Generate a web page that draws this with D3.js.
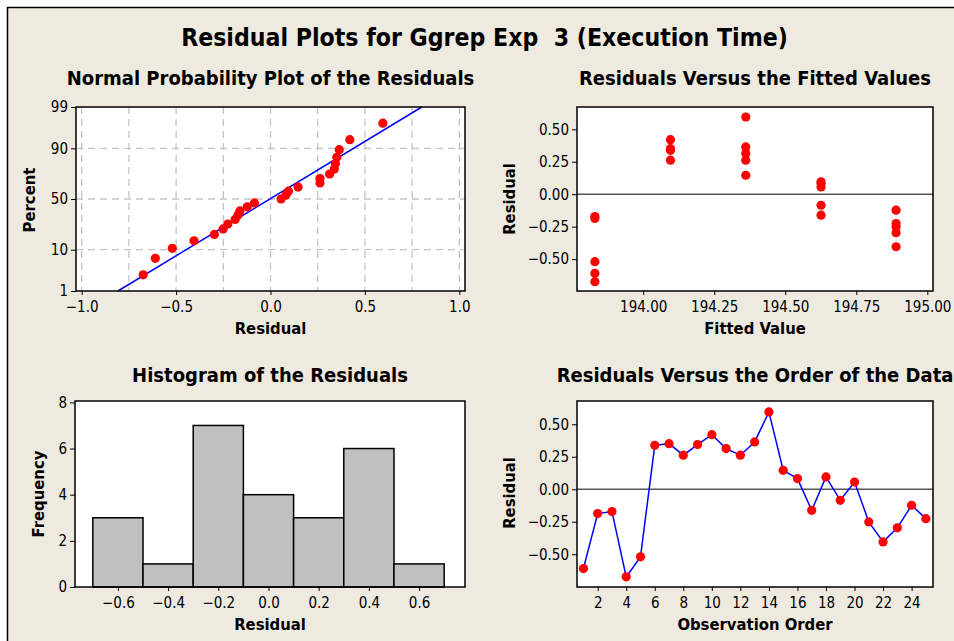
<!DOCTYPE html>
<html><head><meta charset="utf-8">
<script src="https://cdn.jsdelivr.net/npm/d3@7"></script>
<style>
html,body{margin:0;padding:0;background:#fff;}
svg text{font-family:"DejaVu Sans Condensed","DejaVu Sans",Tahoma,sans-serif;fill:#000;}
</style></head><body>
<svg id="chart" width="954" height="641"></svg>
<script>
// ---------- data ----------
const observation = [1,2,3,4,5,6,7,8,9,10,11,12,13,14,15,16,17,18,19,20,21,22,23,24,25];
const residuals = [-0.610,-0.187,-0.172,-0.674,-0.520,0.338,0.351,0.262,0.344,0.420,
                   0.313,0.262,0.364,0.595,0.146,0.082,-0.162,0.095,-0.085,0.056,
                   -0.251,-0.405,-0.297,-0.123,-0.226];
const fitted = [193.83,193.83,193.83,193.83,193.83,194.096,194.096,194.096,194.096,194.096,
                194.361,194.361,194.361,194.361,194.361,194.626,194.626,194.626,194.626,194.626,
                194.89,194.89,194.89,194.89,194.89];
const histEdges = [-0.7,-0.5,-0.3,-0.1,0.1,0.3,0.5,0.7];
const histCounts = [3,1,7,4,3,6,1];
const probTicks = [1,10,50,90,99];
const probGridX = [-1,-0.75,-0.5,-0.25,0,0.25,0.5,0.75,1];
const probXTicks = [-1,-0.5,0,0.5,1];
const residTicks = [-0.5,-0.25,0,0.25,0.5];
const fittedTicks = [194.00,194.25,194.50,194.75,195.00];
const histXTicks = [-0.6,-0.4,-0.2,0,0.2,0.4,0.6];
const histYTicks = [0,2,4,6,8];
const orderTicks = [2,4,6,8,10,12,14,16,18,20,22,24];

const titleText = "Residual Plots for Ggrep Exp  3 (Execution Time)";

// ---------- helpers ----------
function qnorm(p){
  const a=[-3.969683028665376e+01,2.209460984245205e+02,-2.759285104469687e+02,1.383577518672690e+02,-3.066479806614716e+01,2.506628277459239e+00];
  const b=[-5.447609879822406e+01,1.615858368580409e+02,-1.556989798598866e+02,6.680131188771972e+01,-1.328068155288572e+01];
  const c=[-7.784894002430293e-03,-3.223964580411365e-01,-2.400758277161838e+00,-2.549732539343734e+00,4.374664141464968e+00,2.938163982698783e+00];
  const d=[7.784695709041462e-03,3.224671290700398e-01,2.445134137142996e+00,3.754408661907416e+00];
  const pl=0.02425, ph=1-pl; let q,r;
  if(p<pl){q=Math.sqrt(-2*Math.log(p));return (((((c[0]*q+c[1])*q+c[2])*q+c[3])*q+c[4])*q+c[5])/((((d[0]*q+d[1])*q+d[2])*q+d[3])*q+1);}
  if(p<=ph){q=p-0.5;r=q*q;return (((((a[0]*r+a[1])*r+a[2])*r+a[3])*r+a[4])*r+a[5])*q/(((((b[0]*r+b[1])*r+b[2])*r+b[3])*r+b[4])*r+1);}
  q=Math.sqrt(-2*Math.log(1-p));return -(((((c[0]*q+c[1])*q+c[2])*q+c[3])*q+c[4])*q+c[5])/((((d[0]*q+d[1])*q+d[2])*q+d[3])*q+1);
}

const svg = d3.select("#chart");
const BG = "#eeeae0";
svg.append("rect").attr("x",7).attr("y",7).attr("width",947).attr("height",634).attr("fill",BG);
svg.append("path").attr("d","M7.5,641V7.5H954").attr("fill","none").attr("stroke","#000").attr("stroke-width",1.5);

svg.append("text").attr("x",484.5).attr("y",46).attr("text-anchor","middle")
  .style("font-size","24.6px").style("font-weight","bold").style("white-space","pre").text(titleText);

const TICK_FS = "15px";

function panel(box, title){
  const g = svg.append("g");
  g.append("rect").attr("x",box.x0).attr("y",box.y0).attr("width",box.x1-box.x0).attr("height",box.y1-box.y0)
    .attr("fill","#fff");
  g.append("text").attr("x",(box.x0+box.x1)/2).attr("y",box.ty).attr("text-anchor","middle")
    .style("font-size","20px").style("font-weight","bold").text(title);
  return g;
}
function frame(g, box){
  g.append("rect").attr("x",box.x0).attr("y",box.y0).attr("width",box.x1-box.x0).attr("height",box.y1-box.y0)
    .attr("fill","none").attr("stroke","#000").attr("stroke-width",1.5);
}
function xAxis(g, box, scale, ticks, fmt, label, labelY){
  const ax = g.append("g").attr("transform",`translate(0,${box.y1})`)
    .call(d3.axisBottom(scale).tickValues(ticks).tickFormat(fmt).tickSize(4).tickSizeOuter(0).tickPadding(6));
  ax.select(".domain").remove();
  ax.selectAll("text").style("font-size",TICK_FS).attr("font-family",null);
  ax.selectAll("line").attr("stroke","#000");
  g.append("text").attr("x",(box.x0+box.x1)/2).attr("y",labelY).attr("text-anchor","middle")
    .style("font-size","16.5px").style("font-weight","bold").text(label);
}
function yAxis(g, box, scale, ticks, fmt, label, labelX, labelCY){
  const ax = g.append("g").attr("transform",`translate(${box.x0},0)`)
    .call(d3.axisLeft(scale).tickValues(ticks).tickFormat(fmt).tickSize(5).tickSizeOuter(0).tickPadding(3));
  ax.select(".domain").remove();
  ax.selectAll("text").style("font-size",TICK_FS).attr("font-family",null);
  ax.selectAll("line").attr("stroke","#000");
  g.append("text").attr("transform",`translate(${labelX},${labelCY}) rotate(-90)`).attr("text-anchor","middle")
    .style("font-size","16.5px").style("font-weight","bold").text(label);
}

// ---------- Panel 1: Normal probability plot ----------
{
  const box={x0:76,y0:107,x1:465,y1:291,ty:85};
  const g = panel(box,"Normal Probability Plot of the Residuals");
  const x = d3.scaleLinear().domain([-1.03,1.03]).range([box.x0,box.x1]);
  const zmax = qnorm(0.99);
  const y = d3.scaleLinear().domain([-zmax,zmax]).range([box.y1,box.y0]);
  const grid = g.append("g").attr("stroke","#c4c4c4").attr("stroke-width",1.3).attr("stroke-dasharray","7,5");
  grid.selectAll("line.v").data(probGridX).join("line").attr("class","v")
    .attr("x1",d=>x(d)).attr("x2",d=>x(d)).attr("y1",box.y0).attr("y2",box.y1);
  grid.selectAll("line.h").data([10,50,90]).join("line").attr("class","h")
    .attr("x1",box.x0).attr("x2",box.x1).attr("y1",d=>y(qnorm(d/100))).attr("y2",d=>y(qnorm(d/100)));
  const mu = d3.mean(residuals), sd = d3.deviation(residuals);
  const ps = [0.01,0.99];
  g.append("line").attr("x1",x(mu+sd*qnorm(ps[0]))).attr("y1",y(qnorm(ps[0])))
    .attr("x2",x(mu+sd*qnorm(ps[1]))).attr("y2",y(qnorm(ps[1])))
    .attr("stroke","#0000ff").attr("stroke-width",1.5);
  const sorted = residuals.slice().sort(d3.ascending);
  const n = sorted.length;
  g.selectAll("circle").data(sorted).join("circle")
    .attr("cx",d=>x(d)).attr("cy",(d,i)=>y(qnorm((i+1-0.3)/(n+0.4)))).attr("r",4.6).attr("fill","#ff0000");
  frame(g,box);
  xAxis(g,box,x,probXTicks,d3.format(".1f"),"Residual",334);
  yAxis(g,box,y,probTicks.map(p=>qnorm(p/100)),(d,i)=>probTicks[i],"Percent",35,200);
}

// ---------- Panel 2: Residuals vs fitted ----------
{
  const box={x0:577,y0:107,x1:933,y1:291,ty:85};
  const g = panel(box,"Residuals Versus the Fitted Values");
  const x = d3.scaleLinear().domain([193.767,195.02]).range([box.x0,box.x1]);
  const y = d3.scaleLinear().domain([-0.746,0.672]).range([box.y1,box.y0]);
  g.append("line").attr("x1",box.x0).attr("x2",box.x1).attr("y1",y(0)).attr("y2",y(0))
    .attr("stroke","#555").attr("stroke-width",1.5);
  g.selectAll("circle").data(residuals).join("circle")
    .attr("cx",(d,i)=>x(fitted[i])).attr("cy",d=>y(d)).attr("r",4.6).attr("fill","#ff0000");
  frame(g,box);
  xAxis(g,box,x,fittedTicks,d3.format(".2f"),"Fitted Value",334);
  yAxis(g,box,y,residTicks,d3.format(".2f"),"Residual",515,199);
}

// ---------- Panel 3: Histogram ----------
{
  const box={x0:75,y0:401,x1:465,y1:587,ty:382};
  const g = panel(box,"Histogram of the Residuals");
  const x = d3.scaleLinear().domain([-0.771,0.783]).range([box.x0,box.x1]);
  const y = d3.scaleLinear().domain([0,8.06]).range([box.y1,box.y0]);
  g.selectAll("rect.bar").data(histCounts).join("rect").attr("class","bar")
    .attr("x",(d,i)=>x(histEdges[i])).attr("width",(d,i)=>x(histEdges[i+1])-x(histEdges[i]))
    .attr("y",d=>y(d)).attr("height",d=>y(0)-y(d))
    .attr("fill","#c0c0c0").attr("stroke","#000").attr("stroke-width",1.5);
  frame(g,box);
  xAxis(g,box,x,histXTicks,d3.format(".1f"),"Residual",630);
  yAxis(g,box,y,histYTicks,d3.format("d"),"Frequency",44,494);
}

// ---------- Panel 4: Residuals vs order ----------
{
  const box={x0:577,y0:401,x1:933,y1:587,ty:382};
  const g = panel(box,"Residuals Versus the Order of the Data");
  const x = d3.scaleLinear().domain([0.55,25.5]).range([box.x0,box.x1]);
  const y = d3.scaleLinear().domain([-0.752,0.679]).range([box.y1,box.y0]);
  g.append("line").attr("x1",box.x0).attr("x2",box.x1).attr("y1",y(0)).attr("y2",y(0))
    .attr("stroke","#555").attr("stroke-width",1.5);
  g.append("path").datum(residuals)
    .attr("d",d3.line().x((d,i)=>x(observation[i])).y(d=>y(d)))
    .attr("fill","none").attr("stroke","#0000ff").attr("stroke-width",1.5);
  g.selectAll("circle").data(residuals).join("circle")
    .attr("cx",(d,i)=>x(observation[i])).attr("cy",d=>y(d)).attr("r",4.6).attr("fill","#ff0000");
  frame(g,box);
  xAxis(g,box,x,orderTicks,d3.format("d"),"Observation Order",630);
  yAxis(g,box,y,residTicks,d3.format(".2f"),"Residual",515,493);
}
</script>
</body></html>
